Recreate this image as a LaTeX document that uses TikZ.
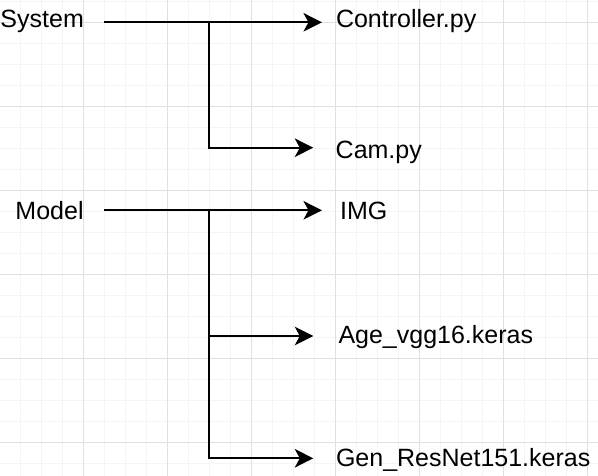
\documentclass[tikz,border=0pt]{standalone}
\usepackage{fontspec}
\setmainfont{Liberation Sans}
\usetikzlibrary{arrows.meta}
\definecolor{gridmajor}{RGB}{224,224,224}
\definecolor{gridminor}{RGB}{244,244,244}
\begin{document}
\begin{tikzpicture}[x=1pt,y=-1pt,
  lbl/.style={anchor=base west,inner sep=0pt,font=\fontsize{25pt}{30pt}\selectfont},
  arr/.style={line width=2pt,-{Stealth[length=18.5pt,width=18.5pt,inset=5pt]}},
  minorline/.style={gridminor,line width=1pt},
  majorline/.style={gridmajor,line width=1pt}]
\useasboundingbox (0,0) rectangle (598,476);
\fill[white] (0,0) rectangle (598,476);
% grid
\foreach \i in {0,...,27} { \draw[minorline] ({20.3+21*\i},0) -- ({20.3+21*\i},476); }
\foreach \i in {0,...,22} { \draw[minorline] (0,{1.3+21*\i}) -- (598,{1.3+21*\i}); }
\foreach \i in {0,...,6} { \draw[majorline] ({83.3+84*\i},0) -- ({83.3+84*\i},476); }
\foreach \i in {0,...,5} { \draw[majorline] (0,{22.3+84*\i}) -- (598,{22.3+84*\i}); }
% labels
\node[lbl] (sys) at (0.3,28) {System};
\node[lbl] (ctrl) at (335.8,28) {Controller.py};
\node[lbl] (cam) at (335.5,158.3) {Cam.py};
\node[lbl] (mdl) at (15.3,219.3) {Model};
\node[lbl] (img) at (340,219.3) {IMG};
\node[lbl] (age) at (338.3,343.3) {Age\_vgg16.keras};
\node[lbl] (gen) at (335.8,466) {Gen\_ResNet151.keras};
% connector points
\coordinate (s0) at (104,22.3);
\coordinate (j1) at (209.3,22.3);
\coordinate (t1) at (322,22.3);
\coordinate (t2) at (313.3,147.7);
\coordinate (m0) at (104,210.3);
\coordinate (j2) at (209.3,210.3);
\coordinate (t3) at (322,210.3);
\coordinate (t4) at (313.3,336);
\coordinate (t5) at (313.3,458.3);
% connectors
\draw[arr] (s0) -- (t1);
\draw[arr] (j1) |- (t2);
\draw[arr] (m0) -- (t3);
\draw[arr] (j2) |- (t4);
\draw[arr] (j2) |- (t5);
\end{tikzpicture}
\end{document}
